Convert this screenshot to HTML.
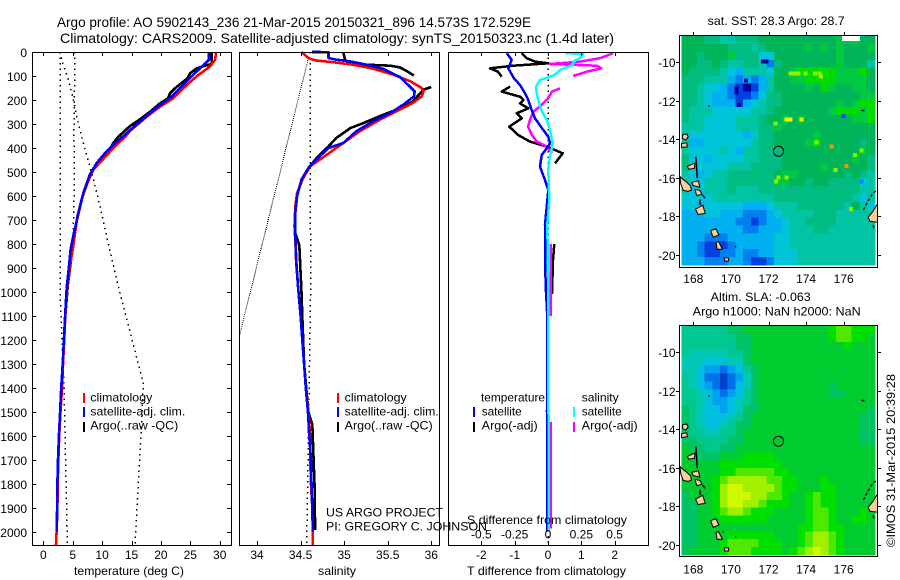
<!DOCTYPE html>
<html>
<head>
<meta charset="utf-8">
<title>Argo profile 5902143</title>
<style>
html,body{margin:0;padding:0;background:#fff;}
svg{display:block;}
text{font-family:"Liberation Sans",sans-serif;font-size:12px;fill:#000;}
.t{font-size:14px;}
</style>
</head>
<body>
<svg id="fig" xmlns="http://www.w3.org/2000/svg" width="900" height="580" viewBox="0 0 900 580">
<rect x="0" y="0" width="900" height="580" fill="#fff"/>
<g id="maps"></g>
<g id="lines"></g>
<g id="axes"></g>

<text class="t" x="57" y="27" textLength="474" lengthAdjust="spacingAndGlyphs">Argo profile: AO 5902143_236 21-Mar-2015 20150321_896 14.573S 172.529E</text>
<text class="t" x="60" y="43" textLength="554" lengthAdjust="spacingAndGlyphs">Climatology: CARS2009. Satellite-adjusted climatology: synTS_20150323.nc (1.4d later)</text>

<text x="74" y="575" textLength="110" lengthAdjust="spacingAndGlyphs">temperature (deg C)</text>
<text x="318" y="575" textLength="38" lengthAdjust="spacingAndGlyphs">salinity</text>
<text x="467" y="575" textLength="159" lengthAdjust="spacingAndGlyphs">T difference from climatology</text>
<text x="467" y="524" textLength="160" lengthAdjust="spacingAndGlyphs">S difference from climatology</text>

<g>
<rect x="83" y="393" width="2" height="10" fill="#f00"/>
<rect x="83" y="407" width="2" height="10" fill="#00f"/>
<rect x="83" y="422" width="2" height="10" fill="#000"/>
<text x="90.3" y="401.7" textLength="62" lengthAdjust="spacingAndGlyphs">climatology</text>
<text x="90.3" y="415.7" textLength="95" lengthAdjust="spacingAndGlyphs">satellite-adj. clim.</text>
<text x="90.3" y="429.7" textLength="88" lengthAdjust="spacingAndGlyphs">Argo(..raw -QC)</text>
</g>
<g>
<rect x="337" y="393" width="2" height="10" fill="#f00"/>
<rect x="337" y="407" width="2" height="10" fill="#00f"/>
<rect x="337" y="422" width="2" height="10" fill="#000"/>
<text x="344.7" y="401.7" textLength="62" lengthAdjust="spacingAndGlyphs">climatology</text>
<text x="344.7" y="415.7" textLength="94" lengthAdjust="spacingAndGlyphs">satellite-adj. clim.</text>
<text x="344.7" y="429.7" textLength="88" lengthAdjust="spacingAndGlyphs">Argo(..raw -QC)</text>
</g>
<g>
<rect x="473" y="407" width="2" height="10" fill="#00f"/>
<rect x="473" y="422" width="2" height="10" fill="#000"/>
<rect x="573" y="407" width="2" height="10" fill="#0ff"/>
<rect x="573" y="422" width="2" height="10" fill="#f0f"/>
<text x="481" y="401.7" textLength="64" lengthAdjust="spacingAndGlyphs">temperature</text>
<text x="481.7" y="415.7" textLength="40" lengthAdjust="spacingAndGlyphs">satellite</text>
<text x="481.7" y="429.7" textLength="56" lengthAdjust="spacingAndGlyphs">Argo(-adj)</text>
<text x="581.7" y="401.7" textLength="37" lengthAdjust="spacingAndGlyphs">salinity</text>
<text x="581.7" y="415.7" textLength="40" lengthAdjust="spacingAndGlyphs">satellite</text>
<text x="581.7" y="429.7" textLength="56" lengthAdjust="spacingAndGlyphs">Argo(-adj)</text>
</g>

<text x="326" y="516.7" textLength="117" lengthAdjust="spacingAndGlyphs">US ARGO PROJECT</text>
<text x="326" y="530.7" textLength="161" lengthAdjust="spacingAndGlyphs">PI: GREGORY C. JOHNSON</text>

<text x="707.7" y="25" textLength="137" lengthAdjust="spacingAndGlyphs">sat. SST: 28.3 Argo: 28.7</text>
<text x="710.7" y="301" textLength="100" lengthAdjust="spacingAndGlyphs">Altim. SLA: -0.063</text>
<text x="692.7" y="315.3" textLength="168" lengthAdjust="spacingAndGlyphs">Argo h1000: NaN h2000: NaN</text>
<text transform="translate(895 547) rotate(-90)" textLength="173" lengthAdjust="spacingAndGlyphs">©IMOS 31-Mar-2015 20:39:28</text>
</svg>

<script>
// ---------- axis tick data ----------
var depthTicks = [0,100,200,300,400,500,600,700,800,900,1000,1100,1200,1300,1400,1500,1600,1700,1800,1900,2000];
var tempTicks = [0,5,10,15,20,25,30];
var salTicks = [34,34.5,35,35.5,36];
var tdiffTicks = [-2,-1,0,1,2];
var sdiffTicks = [-0.5,-0.25,0,0.25,0.5];
var lonTicks = [168,170,172,174,176];
var latTicks = [10,12,14,16,18,20];

// ---------- temperature panel ----------
var tClimDepth = [0,33,61,96,137,193,228,269,329,351,400,462,490,546,615,684,754,823,893,976,1100,1200,1300,1400,1500,1600,1700,1800,1900,2000,2053];
var tClimVal = [29.4,29.2,28.35,26.36,24.4,22.1,19.85,17.6,14.74,14.0,11.9,9.6,8.5,7.5,6.5,5.8,5.4,5,4.5,4.1,3.75,3.55,3.35,3.2,2.9,2.7,2.55,2.45,2.4,2.27,2.16];
var tSatDepth = [0,33,68,108,150,186,221,254,296,325,351,386,421,462,511,587,670,754,823,893,976,1100,1200,1300,1400,1500,1600,1700,1800,1900,2000];
var tSatVal = [28.18,28.18,26.65,24.95,23.25,21.8,19.85,18.15,16.16,14.74,13.6,11.9,10.5,9.1,7.9,6.8,6,5.2,4.65,4.37,4,3.7,3.5,3.3,3.05,2.85,2.65,2.5,2.4,2.35,2.3];
var tArgoDepth = [0,50,57,68,89,108,151,172,193,214,249,290,308,353,379,428,462,511,587,670,754,810,907,976,1100];
var tArgoVal = [28.64,28.64,27.5,26.1,24.95,24.6,22.4,21.55,21.2,19.85,18.15,15.9,14.74,12.76,11.9,10.8,9.4,7.9,6.8,6,5.2,5.0,4.5,4.15,3.75];
var tDot1Depth = [0,1000,1400,2053];
var tDot1Val = [2.84,2.84,3.54,4.1];
var tDot2Depth = [0,350,500,750,1000];
var tDot2Val = [5.39,5.2,5.3,5.1,4];
var tDot3Depth = [0,46,115,185,282,379,518,643,823,976,1380,1450,1616,2053];
var tDot3Val = [2.84,3.3,4.25,5,5.8,6.8,8.4,9.64,11.3,12.76,17,16.9,16.56,15.6];

// ---------- salinity panel ----------
var sClimDepth = [0,25,35,43,53,69,94,122,150,164,185,212,247,282,330,379,428,476,525,587,643,726,782,879,976,1100,1200,1300,1400,1500,1600,1700,1800,1900,2000,2053];
var sClimVal = [34.51,34.59,34.67,34.88,35.1,35.33,35.56,35.76,35.89,35.91,35.89,35.79,35.6,35.41,35.18,34.99,34.8,34.61,34.53,34.46,34.44,34.43,34.44,34.45,34.47,34.5,34.52,34.54,34.56,34.59,34.61,34.61,34.62,34.635,34.64,34.64];
var sSatDepth = [0,0.5,25,32,39,53,71,104,150,164,185,219,254,289,330,379,400,448,483,532,601,670,754,865,976,1100,1200,1300,1400,1500,1600,1700,1800,1900,2000];
var sSatVal = [34.63,34.82,34.82,34.91,35.07,35.26,35.45,35.64,35.77,35.81,35.8,35.68,35.53,35.33,35.14,34.99,34.82,34.68,34.59,34.51,34.46,34.44,34.44,34.45,34.47,34.5,34.52,34.54,34.56,34.585,34.6,34.62,34.625,34.635,34.64];
var sArgoDepth = [0,32,46,53,57,64,80,98,null,146,157,205,230,261,296,317,358,393,435,483,532,601,670,754,805,990,1100,1300,1500,1550,1800,1950,1990];
var sArgoVal = [34.99,35.01,35.05,35.26,35.53,35.64,35.72,35.8,null,36,35.91,35.79,35.68,35.45,35.22,35.07,34.91,34.82,34.7,34.59,34.51,34.46,34.44,34.44,34.485,34.51,34.52,34.54,34.59,34.635,34.66,34.665,34.665];
var sDotDepth = [0,1000,2053];
var sDotVal = [34.61,34.615,34.57];
var sDiagDepth = [25,1180];
var sDiagVal = [34.59,33.8];

// ---------- difference panel ----------
var dTSatDepth = [5,33,68,110,137,172,200,242,276,325,353,380,401,429,478,533,575,720,875,1000,1100,1500,2000];
var dTSatVal = [-1.24,-1.09,-1.19,-1.02,-0.84,-0.69,-0.59,-0.49,-0.39,-0.14,0.01,0.06,-0.04,-0.19,-0.24,-0.09,0.01,-0.09,-0.09,-0.06,-0.02,-0.03,-0.03];
var dTArgoDepth = [5,26,40,47,57,68,82,103,null,144,165,186,200,214,235,255,276,311,346,373,394,422,464,null,800,866,1008];
var dTArgoVal = [-0.79,-0.64,-0.39,0.01,-1.04,-1.74,-1.5,-1.39,null,-1.14,-1.39,-0.84,-0.74,-0.84,-0.59,-0.94,-0.79,-1.16,-0.89,-0.54,-0.04,0.44,0.21,null,0.19,0.15,0.12];
var dSSatDepth = [5,8,26,40,54,75,96,117,144,172,207,242,283,325,380,436,491,616,720,1000,2000];
var dSSatVal = [0.13,0.265,0.24,0.19,0.185,0.09,0.05,-0.06,-0.09,-0.085,-0.07,-0.05,-0.01,0.015,0.035,0.015,0.002,0.01,-0.005,0.002,0.005];
var dSArgoDepth = [5,26,40,50,57,68,82,100,null,151,165,193,221,249,283,311,346,373,394,422,null,800,1100,null,1540,1985];
var dSArgoVal = [0.49,0.39,0.24,0.015,0.365,0.4,0.29,0.19,null,0.09,0.03,0,-0.05,-0.11,-0.135,-0.15,-0.12,-0.085,-0.01,0.03,null,0.02,0.02,null,0.02,0.02];
var dZeroDepth = [0,2053];
var dZeroVal = [0,0];

// ---------- maps ----------
var argoLon = [172.53];
var argoLat = [14.573];
var sstPalette = ['#000098','#0040e0','#0080f0','#00b0f0','#00c4d8','#00c4a4','#00bc80','#00b45a','#00c840','#00dc00','#90f000','#f0f000','#ff9000'];
var slaPalette = ['#0040d0','#0070e8','#00a0f0','#00c0e0','#00c8b4','#00c890','#00c464','#00cc30','#00e000','#50e800','#a0f000','#d0f800'];
var sstGrid = [
[7,7,7,6,6,5,5,6,6,6,7,7,7,7,7,7,7,7,7,7,8,8,8,7,7],
[7,7,7,7,7,7,6,6,6,5,6,7,7,7,7,7,8,7,8,7,8,7,7,7,8],
[7,7,6,7,7,7,8,6,6,6,4,4,7,7,7,7,7,7,7,7,8,7,7,7,7],
[7,7,6,6,7,6,5,5,6,6,5,2,6,7,7,7,7,7,7,7,8,7,7,7,5],
[7,6,6,6,6,5,4,3,5,5,5,4,7,7,8,9,9,9,9,9,8,8,8,9,7],
[6,6,6,5,5,5,3,2,3,2,3,5,7,7,8,8,9,9,9,9,8,8,8,8,7],
[6,6,5,4,4,3,2,1,0,1,3,5,7,7,7,7,8,7,9,8,7,7,8,8,7],
[6,6,5,4,3,3,2,1,1,2,4,6,6,7,7,7,7,7,7,7,7,7,7,8,8],
[6,6,5,4,3,3,3,1,3,4,5,6,6,7,7,7,7,7,7,7,8,7,8,9,9],
[6,5,5,5,4,4,4,4,4,5,5,6,7,7,7,7,7,7,7,8,9,9,9,8,9],
[6,5,5,4,4,4,4,5,5,5,6,7,7,8,7,8,7,7,7,7,7,7,8,8,9],
[5,5,5,4,4,4,4,5,5,5,6,6,8,7,7,7,7,7,7,7,7,7,7,7,7],
[5,4,4,4,4,4,4,4,3,4,6,6,7,7,7,7,7,8,7,7,7,7,7,7,7],
[5,3,3,4,4,4,4,4,4,5,6,6,7,7,7,7,8,9,7,7,7,7,7,6,7],
[5,4,4,4,4,5,4,3,5,5,6,6,6,7,7,7,7,7,7,7,7,7,7,8,7],
[6,4,4,3,4,4,4,4,5,5,6,6,6,7,7,7,7,7,7,7,7,7,8,7,6],
[6,4,4,4,4,4,5,5,5,6,6,6,6,7,7,7,7,7,8,7,7,7,7,7,6],
[5,4,3,4,5,5,6,6,6,6,6,6,7,8,8,7,7,7,7,7,7,6,7,6,5],
[5,4,4,5,5,5,6,6,6,6,6,6,8,8,7,7,6,7,7,6,6,6,6,4,5],
[5,4,4,5,5,5,6,5,5,5,6,6,6,6,6,6,6,6,6,6,6,6,6,5,5],
[4,4,4,4,5,5,5,5,5,5,5,5,6,6,6,6,6,6,6,6,6,6,5,4,5],
[4,4,3,4,4,4,4,4,3,3,3,4,5,5,5,6,6,6,6,6,6,5,7,5,4],
[3,3,3,4,4,3,3,3,2,2,2,3,4,5,5,5,5,6,6,6,5,5,5,5,5],
[3,3,3,3,3,3,3,2,2,1,2,3,3,4,5,5,6,6,6,6,5,5,5,5,5],
[3,3,3,3,3,3,3,3,2,2,3,3,3,4,5,5,5,6,6,5,5,5,5,5,5],
[3,3,3,2,2,2,3,3,3,3,3,3,4,4,5,5,5,5,5,5,5,5,5,5,5],
[3,3,2,1,1,1,2,3,3,3,3,3,4,4,5,5,5,5,5,5,5,5,5,5,5],
[3,3,2,1,1,2,2,3,2,2,3,3,4,4,4,5,5,5,5,5,5,5,5,5,5],
[3,3,3,2,2,2,3,3,2,1,1,2,4,4,4,5,5,5,5,5,5,5,5,5,5]
];
var slaGrid = [
[5,5,5,5,5,5,6,6,7,7,7,7,7,7,7,7,7,7,7,8,9,9,8,8,8],
[5,5,5,5,5,5,5,6,6,7,7,7,7,7,7,7,7,7,7,8,9,9,8,8,7],
[5,5,5,5,5,5,5,6,6,7,7,7,7,7,7,7,7,7,7,7,7,8,7,7,7],
[5,4,4,4,4,4,5,5,6,7,7,7,7,7,7,7,7,7,7,7,7,7,7,7,7],
[4,4,4,3,3,3,4,4,6,7,7,7,7,7,7,7,7,7,7,7,7,7,7,7,7],
[4,4,3,2,2,1,2,3,5,6,7,7,7,7,7,7,7,7,7,7,7,7,7,7,7],
[5,4,3,1,1,0,1,2,4,6,7,7,7,7,7,7,7,7,7,7,7,7,7,7,7],
[5,4,3,2,1,0,1,3,4,6,7,7,7,7,7,7,7,7,7,6,7,7,7,7,7],
[5,5,4,3,2,1,2,3,5,6,7,7,7,7,7,7,7,7,7,6,6,7,7,7,7],
[5,5,4,3,2,2,3,4,5,6,7,7,7,7,7,7,7,7,7,7,7,7,7,7,7],
[6,5,4,3,3,2,3,4,6,6,7,7,7,7,7,7,7,7,7,7,7,7,7,7,6],
[6,5,4,3,3,3,4,5,6,7,7,7,7,7,7,7,7,7,7,7,7,7,7,6,6],
[6,5,4,3,3,4,5,6,6,7,7,7,7,7,7,7,7,7,7,7,7,7,7,6,6],
[6,5,5,4,4,5,5,6,7,7,7,7,7,7,7,7,7,7,7,7,7,7,7,6,6],
[6,6,5,5,5,5,6,6,7,7,7,7,7,7,7,7,7,7,7,7,7,7,7,6,6],
[7,6,6,5,5,6,6,7,7,7,7,7,7,7,7,7,7,7,7,7,7,7,7,7,7],
[7,7,6,6,6,7,7,7,8,8,8,8,7,7,7,7,7,7,7,7,7,7,7,7,7],
[7,7,7,7,7,8,8,8,8,8,8,8,8,7,7,7,7,7,7,7,7,7,7,7,7],
[7,7,7,7,7,8,8,9,9,9,9,9,8,8,7,7,7,7,7,7,7,7,7,7,7],
[7,7,7,7,8,9,10,10,10,10,10,9,9,8,8,7,7,7,8,7,7,7,7,7,7],
[7,7,7,7,8,10,11,11,10,10,10,10,9,8,8,7,7,7,8,8,7,7,7,7,7],
[6,7,7,7,8,10,11,11,11,10,10,9,9,8,7,7,8,9,8,8,7,7,7,7,7],
[6,6,7,7,8,10,11,11,10,10,9,8,8,8,7,7,8,9,8,8,7,7,7,7,7],
[6,6,7,7,8,9,10,10,9,8,8,8,7,7,7,7,8,9,9,8,7,7,7,8,7],
[6,6,7,7,7,8,8,8,8,8,8,7,7,7,7,7,8,9,9,8,7,7,8,8,7],
[6,6,7,7,7,7,7,7,7,7,7,7,7,7,7,8,8,9,9,8,8,7,7,7,7],
[6,6,7,7,7,7,8,8,8,8,8,8,7,7,7,8,9,10,10,9,8,7,7,7,7],
[6,6,7,7,7,8,9,9,9,9,8,8,8,7,7,8,9,10,10,9,8,7,7,7,7],
[6,7,7,7,7,8,9,9,9,8,8,8,8,7,8,9,10,11,10,9,8,7,7,7,7]
];
var speckLon = [171.9,171.72,172.96,173.18,173.76,172.38,175.36,176.16,175.57,176.39,175.98,176.95,173.18,173.39,173.59,173.98,174.47,174.7,174.79,172.52,172.4,172.96,174.56,176.6,176.95,170.3,170.3,170.43,170.8];
var speckLat = [9.97,9.97,12.96,12.96,12.96,13.18,14.38,15.38,15.59,17.61,12.79,16.19,10.57,10.57,10.57,10.57,10.57,10.57,10.74,15.99,16.19,15.99,14.17,14.81,14.58,11.35,11.56,12.21,10.95];
var speckLevel = [0,0,11,11,11,10,12,12,10,10,1,2,10,10,10,10,10,10,10,10,10,10,10,10,10,0,0,0,0];
var landShapes = [
[[167.29,15.93],[167.42,16.05],[167.62,16.2],[167.86,16.42],[167.9,16.62],[167.72,16.7],[167.47,16.65],[167.33,16.3]],
[[167.43,13.77],[167.65,13.72],[167.73,13.86],[167.6,14.03],[167.43,13.96]],
[[167.38,14.22],[167.65,14.18],[167.68,14.38],[167.38,14.42]],
[[167.68,15.4],[168.09,15.22],[168.06,15.5],[167.76,15.55]],
[[167.91,16.23],[168.27,16.15],[168.34,16.48],[168,16.4]],
[[168.09,16.6],[168.35,16.65],[168.46,16.85],[168.18,16.92]],
[[168.12,17.62],[168.5,17.42],[168.64,17.84],[168.25,17.9]],
[[168.92,18.74],[169.2,18.64],[169.36,18.96],[169.06,19.08]],
[[169.22,19.34],[169.34,19.3],[169.55,19.7],[169.26,19.7]],
[[169.66,20.15],[169.88,20.15],[169.88,20.31],[169.66,20.31]],
[[177.3,18.05],[177.55,17.75],[177.8,17.35],[177.8,18.3],[177.4,18.25]]
];
var coastLines = [
[[168.14,14.9],[168.21,16.02]],
[[168.5,16.89],[168.62,17.06]],
[[168.35,17.11],[168.37,17.4]],
[[168.8,12.27],[168.88,12.27]],
[[176.95,12.5],[177.1,12.5]],
[[170.22,19.57],[170.28,19.57]],
[[169.56,19.31],[169.62,19.31]],
[[177.57,18.45],[177.6,18.62]]
];
var reefLine = [[177.04,17.66],[177.3,17.2],[177.57,16.76],[177.8,16.65]];

// ---------- scales ----------
var NS = 'http://www.w3.org/2000/svg';
function depthY(d){ return 52 + d * 0.2401; }
function tempX(t){ return 43.3 + t * 5.88; }
function salX(s){ return 257 + (s - 34) * 87.15; }
function tdiffX(t){ return 548 + t * 33.33; }
function sdiffX(s){ return 548 + s * 133.3; }
function lonX(l){ return 693.3 + (l - 168) * 18.8; }
function latY(l, off){ return 62.3 + (l - 10) * 19.27 + off; }

var linesG = document.getElementById('lines');
var axesG = document.getElementById('axes');
var mapsG = document.getElementById('maps');

function profile(depths, vals, xf, color, width, dash, name){
  var d = '', pen = false;
  for (var i = 0; i < depths.length; i++){
    if (depths[i] === null || vals[i] === null){ pen = false; continue; }
    d += (pen ? 'L' : 'M') + xf(vals[i]).toFixed(1) + ' ' + depthY(depths[i]).toFixed(1);
    pen = true;
  }
  var el = document.createElementNS(NS, 'path');
  el.setAttribute('d', d);
  el.setAttribute('fill', 'none');
  el.setAttribute('stroke', color);
  el.setAttribute('stroke-width', width);
  if (dash) el.setAttribute('stroke-dasharray', dash);
  if (!dash) el.setAttribute('stroke-linejoin', 'round');
  el.setAttribute('shape-rendering', 'crispEdges');
  
  
  linesG.appendChild(el);
}
function seg(parent, x1, y1, x2, y2, name){
  var el = document.createElementNS(NS, 'line');
  el.setAttribute('x1', x1);
  el.setAttribute('y1', y1);
  el.setAttribute('x2', x2);
  el.setAttribute('y2', y2);
  el.setAttribute('stroke', '#000');
  el.setAttribute('stroke-width', 1);
  el.setAttribute('shape-rendering', 'crispEdges');
  
  
  parent.appendChild(el);
}
function frame(x, y, w, h, name){
  var el = document.createElementNS(NS, 'rect');
  el.setAttribute('x', x);
  el.setAttribute('y', y);
  el.setAttribute('width', w);
  el.setAttribute('height', h);
  el.setAttribute('fill', 'none');
  el.setAttribute('stroke', '#000');
  el.setAttribute('stroke-width', 1);
  el.setAttribute('shape-rendering', 'crispEdges');
  
  
  axesG.appendChild(el);
}
function label(x, y, s, anchor, name){
  var el = document.createElementNS(NS, 'text');
  el.setAttribute('x', x);
  el.setAttribute('y', y);
  el.setAttribute('text-anchor', anchor);
  
  
  el.textContent = s;
  axesG.appendChild(el);
}

// ---------- profile lines ----------
profile(tDot1Depth, tDot1Val, tempX, '#000', 1.5, '1.5 4', 'temperature-dotted-bound-low');
profile(tDot2Depth, tDot2Val, tempX, '#000', 1.5, '1.5 4', 'temperature-dotted-bound-mid');
profile(tDot3Depth, tDot3Val, tempX, '#000', 1.5, '1.5 4', 'temperature-dotted-bound-high');
profile(tArgoDepth, tArgoVal, tempX, '#000', 2.6, null, 'temperature-argo-line');
profile(tClimDepth, tClimVal, tempX, '#f00', 2.6, null, 'temperature-climatology-line');
profile(tSatDepth, tSatVal, tempX, '#00f', 2.6, null, 'temperature-satellite-line');

profile(sDotDepth, sDotVal, salX, '#000', 1.5, '1.5 4', 'salinity-dotted-bound');
profile(sDiagDepth, sDiagVal, salX, '#000', 1, '1 1', 'salinity-dotted-diagonal');
profile(sArgoDepth, sArgoVal, salX, '#000', 2.6, null, 'salinity-argo-line');
profile(sClimDepth, sClimVal, salX, '#f00', 2.6, null, 'salinity-climatology-line');
profile(sSatDepth, sSatVal, salX, '#00f', 2.6, null, 'salinity-satellite-line');

profile(dZeroDepth, dZeroVal, tdiffX, '#000', 1.5, '1.5 4', 'difference-zero-line');
profile(dTArgoDepth, dTArgoVal, tdiffX, '#000', 2.5, null, 'difference-t-argo-line');
profile(dSArgoDepth, dSArgoVal, sdiffX, '#f0f', 2.5, null, 'difference-s-argo-line');
profile(dTSatDepth, dTSatVal, tdiffX, '#00f', 2.5, null, 'difference-t-satellite-line');
profile(dSSatDepth, dSSatVal, sdiffX, '#0ff', 2.5, null, 'difference-s-satellite-line');

// ---------- panel axes ----------
frame(32.5, 52.5, 199, 493, 'temperature-panel-frame');
frame(239.5, 52.5, 200, 493, 'salinity-panel-frame');
frame(448.5, 52.5, 200, 493, 'difference-panel-frame');
depthTicks.forEach(function(d){
  var y = Math.round(depthY(d)) + 0.5;
  seg(axesG, 32, y, 36, y, 'depth-tick-left');
  seg(axesG, 227, y, 231, y, 'depth-tick-right');
  label(27, y + 4.5, String(d), 'end', 'depth-tick-label');
});
tempTicks.forEach(function(t){
  var x = Math.round(tempX(t)) + 0.5;
  seg(axesG, x, 52, x, 56, 'temperature-tick-top');
  seg(axesG, x, 541, x, 545, 'temperature-tick-bottom');
  label(tempX(t), 559, String(t), 'middle', 'temperature-tick-label');
});
salTicks.forEach(function(s){
  var x = Math.round(salX(s)) + 0.5;
  seg(axesG, x, 52, x, 56, 'salinity-tick-top');
  seg(axesG, x, 541, x, 545, 'salinity-tick-bottom');
  label(salX(s), 559, String(s), 'middle', 'salinity-tick-label');
});
tdiffTicks.forEach(function(t){
  var x = Math.round(tdiffX(t)) + 0.5;
  seg(axesG, x, 52, x, 56, 'difference-tick-top');
  seg(axesG, x, 541, x, 545, 'difference-tick-bottom');
  label(tdiffX(t), 559, String(t), 'middle', 't-difference-tick-label');
});
sdiffTicks.forEach(function(s){
  label(sdiffX(s), 538.7, String(s), 'middle', 's-difference-tick-label');
});

// ---------- maps ----------
var LON0 = 167.36, LON1 = 177.66, LAT0 = 8.64, LAT1 = 20.52;
function drawHeat(grid, palette, off, name){
  var nr = grid.length, nc = grid[0].length;
  var cw = (lonX(LON1) - lonX(LON0)) / nc, ch = (latY(LAT1, 0) - latY(LAT0, 0)) / nr;
  grid.forEach(function(row, j){
    row.forEach(function(v, i){
      var c = document.createElementNS(NS, 'rect');
      c.setAttribute('x', (lonX(LON0) + i * cw).toFixed(2));
      c.setAttribute('y', (latY(LAT0, off) + j * ch).toFixed(2));
      c.setAttribute('width', (cw + 0.4).toFixed(2));
      c.setAttribute('height', (ch + 0.4).toFixed(2));
      c.setAttribute('fill', palette[v]);
      c.setAttribute('shape-rendering', 'crispEdges');
      
      
      mapsG.appendChild(c);
    });
  });
}
function drawLand(off){
  landShapes.forEach(function(shape){
    var p = document.createElementNS(NS, 'polygon');
    p.setAttribute('points', shape.map(function(q){ return lonX(q[0]).toFixed(1) + ',' + latY(q[1], off).toFixed(1); }).join(' '));
    p.setAttribute('fill', '#ffcc99');
    p.setAttribute('stroke', '#000');
    p.setAttribute('stroke-width', 1);
    
    
    mapsG.appendChild(p);
  });
  coastLines.forEach(function(line){
    var p = document.createElementNS(NS, 'polyline');
    p.setAttribute('points', line.map(function(q){ return lonX(q[0]).toFixed(1) + ',' + latY(q[1], off).toFixed(1); }).join(' '));
    p.setAttribute('fill', 'none');
    p.setAttribute('stroke', '#000');
    p.setAttribute('stroke-width', 1.5);
    
    
    mapsG.appendChild(p);
  });
  var reef = document.createElementNS(NS, 'polyline');
  reef.setAttribute('points', reefLine.map(function(q){ return lonX(q[0]).toFixed(1) + ',' + latY(q[1], off).toFixed(1); }).join(' '));
  reef.setAttribute('fill', 'none');
  reef.setAttribute('stroke', '#000');
  reef.setAttribute('stroke-width', 1.3);
  reef.setAttribute('stroke-dasharray', '3 2');
  
  
  mapsG.appendChild(reef);
}
function drawFloat(off, name){
  var c = document.createElementNS(NS, 'circle');
  c.setAttribute('cx', lonX(argoLon[0]).toFixed(1));
  c.setAttribute('cy', (latY(argoLat[0], off) + 0.8).toFixed(1));
  c.setAttribute('r', 5);
  c.setAttribute('fill', 'none');
  c.setAttribute('stroke', '#000');
  c.setAttribute('stroke-width', 1);
  
  
  mapsG.appendChild(c);
}
function drawMapAxes(top, bottom, off, labelY, name){
  frame(679.5, top + 0.5, 198, bottom - top, name + '-frame');
  lonTicks.forEach(function(l){
    var x = Math.round(lonX(l)) + 0.5;
    seg(axesG, x, top - 3, x, top, name + '-lon-tick');
    label(lonX(l), labelY, String(l), 'middle', name + '-lon-label');
  });
  latTicks.forEach(function(l){
    var y = Math.round(latY(l, off)) + 0.5;
    seg(axesG, 676, y, 679, y, name + '-lat-tick');
    seg(axesG, 878, y, 881, y, name + '-lat-tick-right');
    label(675.5, y + 4.5, '-' + l, 'end', name + '-lat-label');
  });
}

drawHeat(sstGrid, sstPalette, 0, 'sst-cell');
speckLon.forEach(function(lon, i){
  var s = document.createElementNS(NS, 'rect');
  s.setAttribute('x', (lonX(lon) - 2).toFixed(1));
  s.setAttribute('y', (latY(speckLat[i], 0) - 2).toFixed(1));
  s.setAttribute('width', 4);
  s.setAttribute('height', 4);
  s.setAttribute('fill', sstPalette[speckLevel[i]]);
  s.setAttribute('shape-rendering', 'crispEdges');
  
  
  mapsG.appendChild(s);
});
var noData = document.createElementNS(NS, 'rect');
noData.setAttribute('x', 842);
noData.setAttribute('y', 36);
noData.setAttribute('width', 18);
noData.setAttribute('height', 5);
noData.setAttribute('fill', '#fff');


mapsG.appendChild(noData);
drawLand(0);
drawFloat(0, 'sst-float-position');

drawHeat(slaGrid, slaPalette, 290, 'sla-cell');
drawLand(290);
drawFloat(290, 'sla-float-position');

drawMapAxes(35, 267, 0, 283, 'sst-map');
drawMapAxes(325, 556, 290, 573.3, 'sla-map');
</script>
</body>
</html>
